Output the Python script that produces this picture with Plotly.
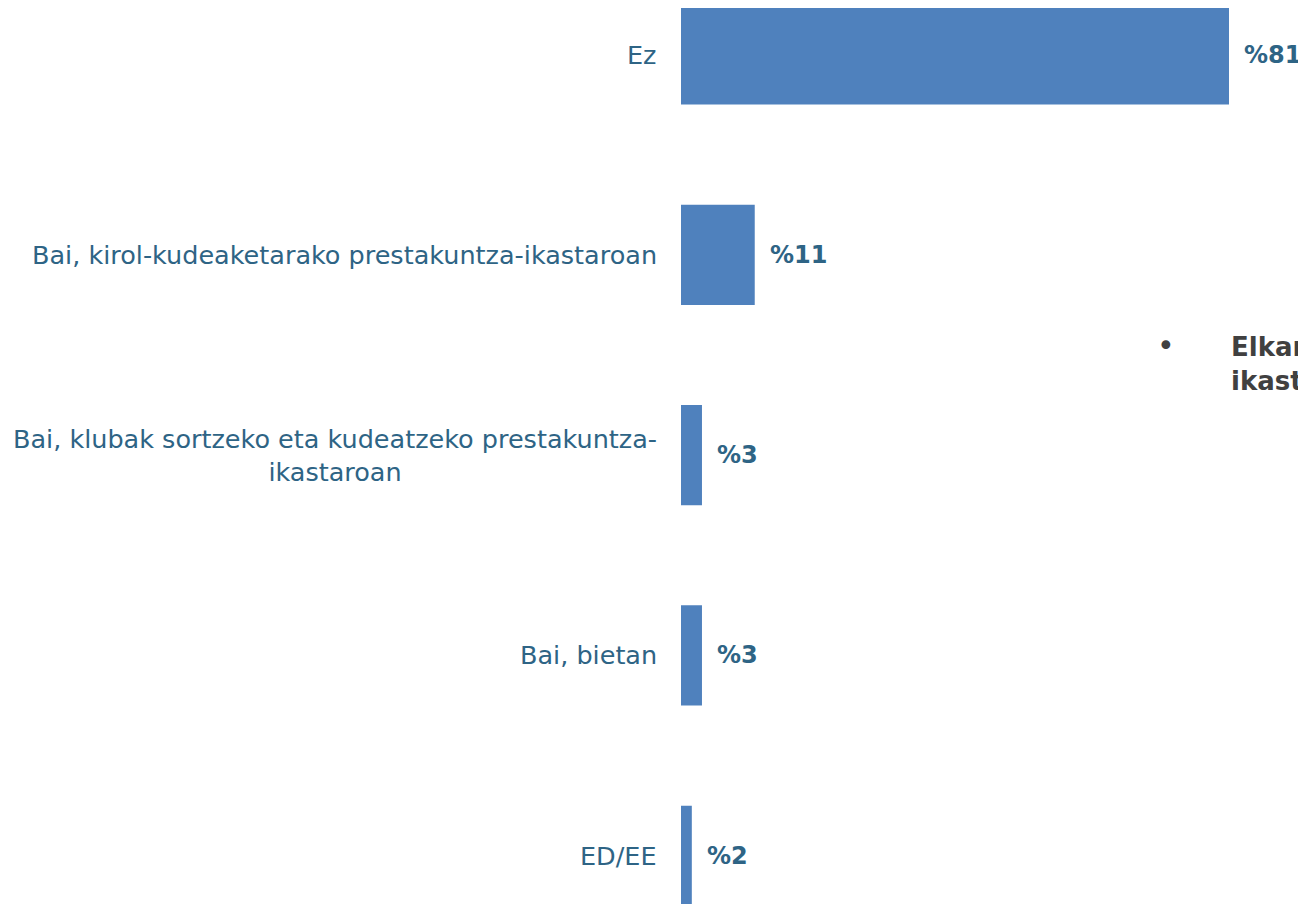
import plotly.graph_objects as go

categories = ["Ez", "Bai, kirol-kudeaketarako prestakuntza-ikastaroan",
              "Bai, klubak sortzeko eta kudeatzeko prestakuntza-<br>ikastaroan",
              "Bai, bietan", "ED/EE"]
values = [81, 10.9, 3.1, 3.1, 1.6]
value_labels = ["%81", "%11", "%3", "%3", "%2"]

idx = list(range(len(categories)))
BAR = "#4F81BD"
TXT = "#2E6485"
FONT = "DejaVu Sans"

fig = go.Figure(go.Bar(x=values, y=idx, orientation="h", width=0.5,
                       marker=dict(color=BAR, line=dict(width=0)),
                       hoverinfo="skip"))

annotations = []
for i, (c, v, lab) in enumerate(zip(categories, values, value_labels)):
    annotations.append(dict(x=0, y=i, xref="x", yref="y", text=c, showarrow=False,
                            xanchor="right", yanchor="middle", align="center", xshift=-22,
                            font=dict(family=FONT, size=25.5, color=TXT)))
    annotations.append(dict(x=v, y=i, xref="x", yref="y", text="<b>" + lab + "</b>",
                            showarrow=False, xanchor="left", yanchor="middle", xshift=13,
                            font=dict(family=FONT, size=24, color=TXT)))

# page offset of the figure (body margin)
OFF = 8
W, H = 1306 - OFF, 904 - OFF

extra = [
    dict(x=1155, y=345, text="•", size=30),
    dict(x=1229, y=364, text="<b>Elkarrizketatuen gehiengoak ez du<br>ikastarorik egin</b>", size=26),
]
for e in extra:
    annotations.append(dict(x=(e["x"] - OFF) / W, y=1 - (e["y"] - OFF) / H,
                            xref="paper", yref="paper", text=e["text"],
                            showarrow=False, xanchor="left", yanchor="middle", align="left",
                            font=dict(family=FONT, size=e["size"], color="#404040")))

px_per_unit = 548 / 81
x0 = -(681 - OFF) / px_per_unit
x1 = x0 + W / px_per_unit
unit_px = 200.3
y_top = -(54.5 - OFF) / unit_px
y_bot = (H - (54.5 - OFF)) / unit_px

fig.update_layout(
    width=W, height=H, margin=dict(l=0, r=0, t=0, b=0),
    paper_bgcolor="white", plot_bgcolor="white", showlegend=False,
    xaxis=dict(range=[x0, x1], visible=False, fixedrange=True),
    yaxis=dict(range=[y_bot, y_top], visible=False, fixedrange=True),
    annotations=annotations,
)

fig.write_html("out.html")
